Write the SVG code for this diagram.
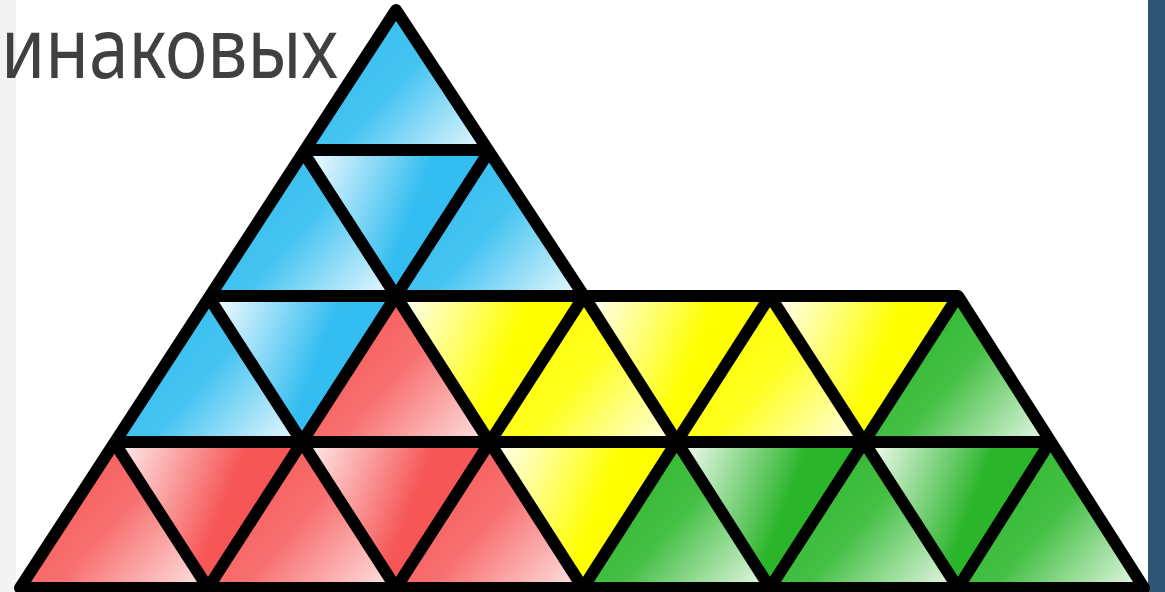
<svg xmlns="http://www.w3.org/2000/svg" width="1165" height="592" viewBox="0 0 1165 592">
<style>
.tri{stroke:none}
.edge{stroke:#000;stroke-width:12;stroke-linecap:butt;stroke-linejoin:round;fill:none}
.title{font-family:"Noto Sans","Open Sans","DejaVu Sans",sans-serif;font-size:84px;fill:#404040}
</style>
<defs>
<linearGradient id="bU" x1="0" y1="0.3" x2="1" y2="1"><stop offset="0" stop-color="#33bdf0"/><stop offset="0.45" stop-color="#45c4f1"/><stop offset="1" stop-color="#f2fbff"/></linearGradient>
<linearGradient id="bD" x1="0" y1="0.2" x2="1" y2="0.5"><stop offset="0" stop-color="#f2fbff"/><stop offset="0.6" stop-color="#33bdf0"/><stop offset="1" stop-color="#33bdf0"/></linearGradient>
<linearGradient id="rU" x1="0" y1="0.3" x2="1" y2="1"><stop offset="0" stop-color="#f65656"/><stop offset="0.45" stop-color="#f87070"/><stop offset="1" stop-color="#fde8e8"/></linearGradient>
<linearGradient id="rD" x1="0" y1="0.2" x2="1" y2="0.5"><stop offset="0" stop-color="#fde8e8"/><stop offset="0.6" stop-color="#f65656"/><stop offset="1" stop-color="#f65656"/></linearGradient>
<linearGradient id="yU" x1="0" y1="0.3" x2="1" y2="1"><stop offset="0" stop-color="#ffff00"/><stop offset="0.45" stop-color="#ffff20"/><stop offset="1" stop-color="#fffff0"/></linearGradient>
<linearGradient id="yD" x1="0" y1="0.2" x2="1" y2="0.5"><stop offset="0" stop-color="#fffff0"/><stop offset="0.6" stop-color="#ffff00"/><stop offset="1" stop-color="#ffff00"/></linearGradient>
<linearGradient id="gU" x1="0" y1="0.3" x2="1" y2="1"><stop offset="0" stop-color="#2bb52b"/><stop offset="0.45" stop-color="#45c045"/><stop offset="1" stop-color="#eefaee"/></linearGradient>
<linearGradient id="gD" x1="0" y1="0.2" x2="1" y2="0.5"><stop offset="0" stop-color="#eefaee"/><stop offset="0.6" stop-color="#2bb52b"/><stop offset="1" stop-color="#2bb52b"/></linearGradient>
</defs>
<rect x="0" y="0" width="1165" height="592" fill="#ffffff"/>
<rect x="0" y="0" width="16" height="592" fill="#f3f3f3"/>
<rect x="1148" y="0" width="17" height="592" fill="#2e5573"/>
<text class="title" x="1" y="78" textLength="337" lengthAdjust="spacingAndGlyphs">инаковых</text>
<g id="triangles">
<g id="r1u1"><polygon class="tri" fill="url(#bU)" points="396,10 302,150 490,150"/></g>
<g id="r2u1"><polygon class="tri" fill="url(#bU)" points="302,150 208,296 396,296"/></g>
<g id="r2d1"><polygon class="tri" fill="url(#bD)" points="302,150 490,150 396,296"/></g>
<g id="r2u2"><polygon class="tri" fill="url(#bU)" points="490,150 396,296 584,296"/></g>
<g id="r3u1"><polygon class="tri" fill="url(#bU)" points="208,296 114,442 302,442"/></g>
<g id="r3d1"><polygon class="tri" fill="url(#bD)" points="208,296 396,296 302,442"/></g>
<g id="r3u2"><polygon class="tri" fill="url(#rU)" points="396,296 302,442 490,442"/></g>
<g id="r3d2"><polygon class="tri" fill="url(#yD)" points="396,296 584,296 490,442"/></g>
<g id="r3u3"><polygon class="tri" fill="url(#yU)" points="584,296 490,442 677,442"/></g>
<g id="r3d3"><polygon class="tri" fill="url(#yD)" points="584,296 770,296 677,442"/></g>
<g id="r3u4"><polygon class="tri" fill="url(#yU)" points="770,296 677,442 864,442"/></g>
<g id="r3d4"><polygon class="tri" fill="url(#yD)" points="770,296 958,296 864,442"/></g>
<g id="r3u5"><polygon class="tri" fill="url(#gU)" points="958,296 864,442 1050,442"/></g>
<g id="r4u1"><polygon class="tri" fill="url(#rU)" points="114,442 20,588 208,588"/></g>
<g id="r4d1"><polygon class="tri" fill="url(#rD)" points="114,442 302,442 208,588"/></g>
<g id="r4u2"><polygon class="tri" fill="url(#rU)" points="302,442 208,588 396,588"/></g>
<g id="r4d2"><polygon class="tri" fill="url(#rD)" points="302,442 490,442 396,588"/></g>
<g id="r4u3"><polygon class="tri" fill="url(#rU)" points="490,442 396,588 583,588"/></g>
<g id="r4d3"><polygon class="tri" fill="url(#yD)" points="490,442 677,442 583,588"/></g>
<g id="r4u4"><polygon class="tri" fill="url(#gU)" points="677,442 583,588 770,588"/></g>
<g id="r4d4"><polygon class="tri" fill="url(#gD)" points="677,442 864,442 770,588"/></g>
<g id="r4u5"><polygon class="tri" fill="url(#gU)" points="864,442 770,588 958,588"/></g>
<g id="r4d5"><polygon class="tri" fill="url(#gD)" points="864,442 1050,442 958,588"/></g>
<g id="r4u6"><polygon class="tri" fill="url(#gU)" points="1050,442 958,588 1144,588"/></g>
</g>
<g id="edges" class="edge">
<polygon points="396,10 584,296 958,296 1144,588 20,588"/>
<line x1="302" y1="150" x2="490" y2="150"/>
<line x1="208" y1="296" x2="584" y2="296"/>
<line x1="114" y1="442" x2="1050" y2="442"/>
<line x1="302" y1="150" x2="396" y2="296"/>
<line x1="490" y1="150" x2="396" y2="296"/>
<line x1="208" y1="296" x2="396" y2="588"/>
<line x1="396" y1="296" x2="583" y2="588"/>
<line x1="396" y1="296" x2="208" y2="588"/>
<line x1="584" y1="296" x2="396" y2="588"/>
<line x1="114" y1="442" x2="208" y2="588"/>
<line x1="584" y1="296" x2="770" y2="588"/>
<line x1="770" y1="296" x2="583" y2="588"/>
<line x1="770" y1="296" x2="958" y2="588"/>
<line x1="958" y1="296" x2="770" y2="588"/>
<line x1="1050" y1="442" x2="958" y2="588"/>
</g>
</svg>
